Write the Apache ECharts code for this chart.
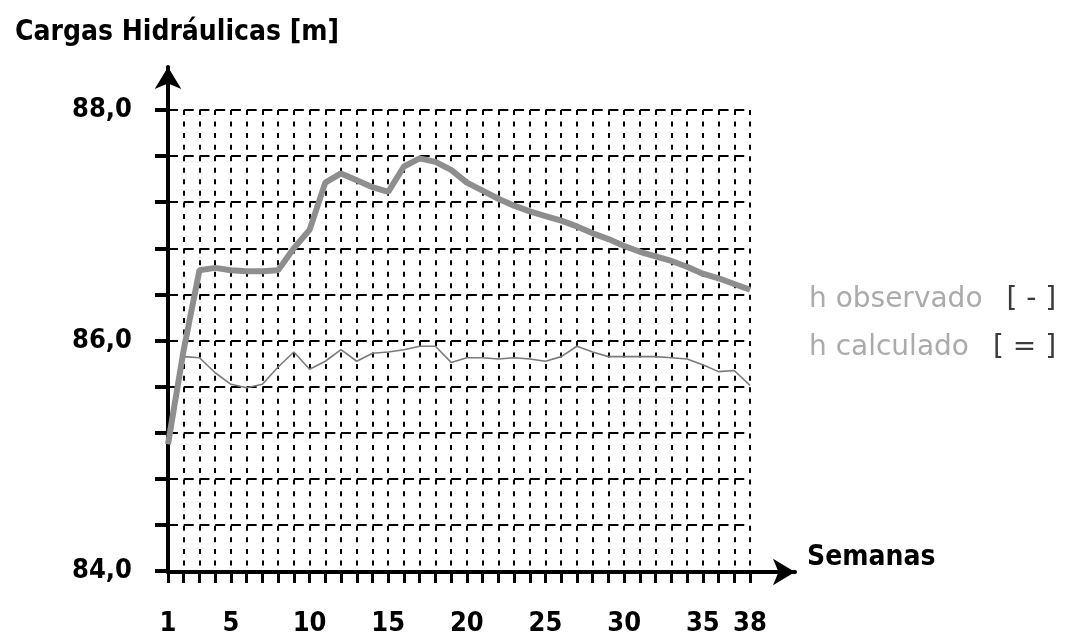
<!DOCTYPE html>
<html>
<head>
<meta charset="utf-8">
<script src="https://cdn.jsdelivr.net/npm/echarts@6/dist/echarts.min.js"></script>
<style>
  html, body { margin: 0; padding: 0; background: #ffffff; }
  #chart { width: 1068px; height: 637px; }
</style>
</head>
<body>
<div id="chart"></div>
<script>
// Semanas (weeks) of monitoring
const weeks = [1, 2, 3, 4, 5, 6, 7, 8, 9, 10, 11, 12, 13, 14, 15, 16, 17, 18, 19,
               20, 21, 22, 23, 24, 25, 26, 27, 28, 29, 30, 31, 32, 33, 34, 35, 36, 37, 38];

// Observed hydraulic head [m]
const hObservado = [85.10, 85.92, 86.61, 86.63, 86.61, 86.60, 86.60, 86.61, 86.80, 86.96,
                    87.37, 87.45, 87.39, 87.33, 87.29, 87.51, 87.58, 87.55, 87.48, 87.37,
                    87.30, 87.23, 87.17, 87.12, 87.08, 87.04, 86.99, 86.93, 86.88, 86.82,
                    86.77, 86.73, 86.69, 86.64, 86.58, 86.54, 86.49, 86.44];

// Calculated hydraulic head [m]
const hCalculado = [85.10, 85.86, 85.85, 85.72, 85.62, 85.59, 85.62, 85.77, 85.90, 85.75,
                    85.82, 85.92, 85.82, 85.89, 85.90, 85.92, 85.95, 85.95, 85.81, 85.85,
                    85.85, 85.84, 85.85, 85.84, 85.82, 85.86, 85.95, 85.90, 85.86, 85.86,
                    85.86, 85.86, 85.85, 85.84, 85.79, 85.73, 85.74, 85.61];

// Labelled ticks
const xTickLabels = [1, 5, 10, 15, 20, 25, 30, 35, 38];
const yTickLabels = [84, 86, 88];

const boldFont = '"DejaVu Sans", sans-serif';
const condFont = '"DejaVu Sans Condensed", "DejaVu Sans", sans-serif';

const chart = echarts.init(document.getElementById('chart'), null, { renderer: 'canvas' });

const option = {
  backgroundColor: '#ffffff',
  animation: false,
  title: {
    text: 'Cargas Hidráulicas [m]',
    left: 10,
    top: 14,
    textStyle: { fontFamily: condFont, fontWeight: 'bold', fontSize: 28, color: '#000000' }
  },
  legend: {
    orient: 'vertical',
    left: 798,
    top: 281,
    itemGap: 20,
    itemWidth: 0,
    itemHeight: 0,
    selectedMode: false,
    data: ['h observado', 'h calculado'],
    formatter: function (name) {
      return name === 'h observado'
        ? '{t|h observado}{b|[ - ]}'
        : '{t|h calculado}{b|[ = ]}';
    },
    textStyle: {
      rich: {
        t: { fontFamily: '"DejaVu Sans", sans-serif', fontSize: 28, color: '#ababab' },
        b: { fontFamily: '"DejaVu Sans", sans-serif', fontSize: 28, color: '#3c3c3c', padding: [0, 0, 0, 24] }
      }
    }
  },
  grid: [
    // data area
    { left: 168, top: 110, width: 582, bottom: 65, containLabel: false },
    // frame carrying the arrowed axes
    { left: 168, top: 67, right: 273, bottom: 65, containLabel: false }
  ],
  xAxis: [
    {
      type: 'value',
      gridIndex: 0,
      min: 1,
      max: 38,
      interval: 1,
      axisLine: { show: false },
      axisTick: { show: true, length: 12, lineStyle: { color: '#000', width: 3 } },
      axisLabel: {
        customValues: xTickLabels,
        margin: 39,
        fontFamily: condFont,
        fontWeight: 'bold',
        fontSize: 27,
        color: '#000'
      },
      splitLine: { show: true, lineStyle: { color: '#000', width: 2, type: [5, 6.55] } }
    },
    {
      type: 'value',
      gridIndex: 1,
      min: 0,
      max: 1,
      name: 'Semanas',
      nameLocation: 'end',
      nameGap: 12,
      nameTextStyle: {
        fontFamily: condFont, fontWeight: 'bold', fontSize: 28, color: '#000',
        verticalAlign: 'bottom', align: 'left', padding: [0, 0, 0, 0]
      },
      axisLine: {
        show: true,
        symbol: ['none', 'arrow'],
        symbolSize: [20, 22],
        lineStyle: { color: '#000', width: 4 }
      },
      axisTick: { show: false },
      axisLabel: { show: false },
      splitLine: { show: false }
    }
  ],
  yAxis: [
    {
      type: 'value',
      gridIndex: 0,
      min: 84,
      max: 88,
      interval: 0.4,
      axisLine: { show: false },
      axisTick: { show: true, length: 13, lineStyle: { color: '#000', width: 4 } },
      axisLabel: {
        customValues: yTickLabels,
        margin: 36,
        fontFamily: condFont,
        fontWeight: 'bold',
        fontSize: 27,
        color: '#000',
        formatter: function (v) { return v.toFixed(1).replace('.', ','); }
      },
      splitLine: { show: true, lineStyle: { color: '#000', width: 2, type: [10, 5.73] } }
    },
    {
      type: 'value',
      gridIndex: 1,
      min: 0,
      max: 1,
      axisLine: {
        show: true,
        symbol: ['none', 'arrow'],
        symbolSize: [20, 22],
        lineStyle: { color: '#000', width: 4 }
      },
      axisTick: { show: false },
      axisLabel: { show: false },
      splitLine: { show: false }
    }
  ],
  series: [
    {
      name: 'h observado',
      type: 'line',
      xAxisIndex: 0,
      yAxisIndex: 0,
      data: weeks.map((w, i) => [w, hObservado[i]]),
      showSymbol: false,
      symbol: 'none',
      lineStyle: { color: '#8e8e8e', width: 6 },
      z: 5
    },
    {
      name: 'h calculado',
      type: 'line',
      xAxisIndex: 0,
      yAxisIndex: 0,
      data: weeks.map((w, i) => [w, hCalculado[i]]),
      showSymbol: false,
      symbol: 'none',
      lineStyle: { color: '#7a7a7a', width: 1.6 },
      z: 4
    }
  ]
};

chart.setOption(option);
</script>
</body>
</html>
